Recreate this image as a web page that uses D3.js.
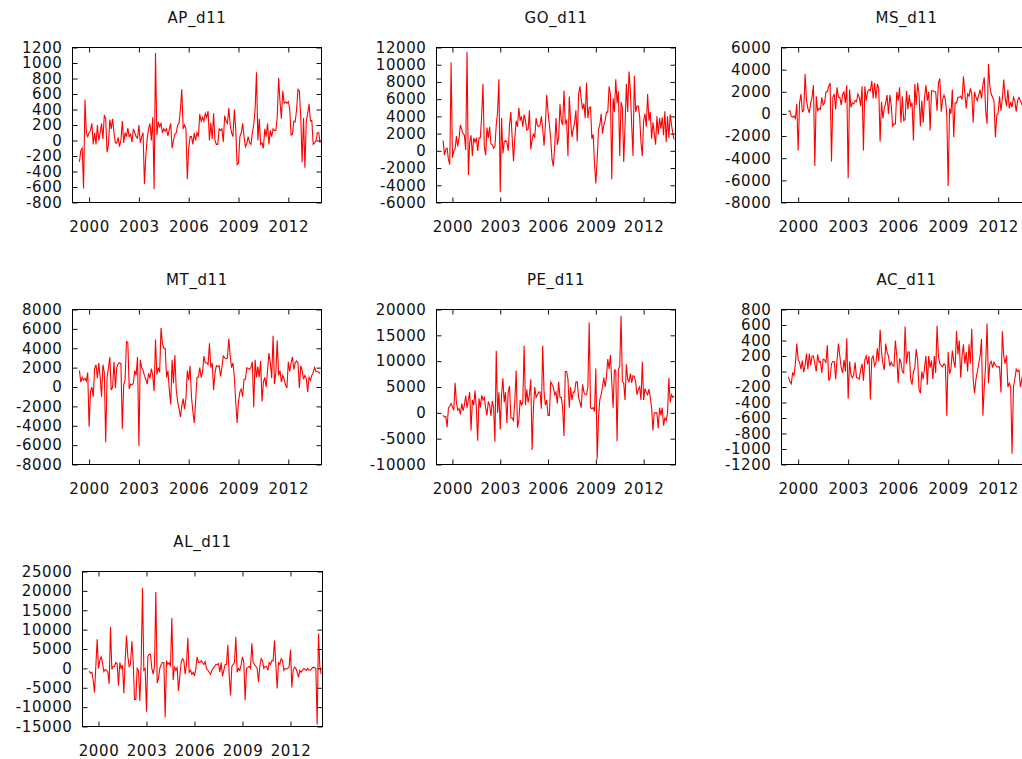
<!DOCTYPE html>
<html>
<head>
<meta charset="utf-8">
<script src="https://cdn.jsdelivr.net/npm/d3@7"></script>
<style>
  body { margin: 0; background: #fff; }
  svg { display: block; }
</style>
</head>
<body>
<svg width="1022" height="759"></svg>
<script>
// monthly series, first value is June 1999, one row per year
const firstMonth = 1999 + 5 / 12;
const yearTicks = [2000, 2003, 2006, 2009, 2012];

const apD11 = [
  -275, -130, -100, -620, 530, 100, 50,
  100, 130, 220, -50, 100, -50, 200, 0, 100, 220, 20, 330,
  280, -150, -50, 270, 150, 280, 100, -30, -30, 40, -80, 0,
  250, -30, 100, 50, 160, 50, 80, -20, 150, 100, 50, 30,
  200, -30, 50, 100, -560, -200, 30, 150, 220, 0, 300, -630,
  1130, 70, 240, 180, 220, 100, 150, 120, 150, 60, 150, 220,
  -100, 0, 80, 100, 200, 220, 400, 660, 150, 200, 150, -500,
  -100, 50, 50, -50, 100, 0, 100, 50, 340, 250, 300, 250,
  350, 300, 380, 0, 230, 20, 350, 0, -50, -50, 150, 130,
  150, -20, 320, 250, 220, 420, 200, 100, 50, 400, 150, -310,
  -290, 50, 100, 220, 50, -80, -40, 50, -30, -50, 100, 200,
  400, 880, 0, 280, -50, -30, -100, 150, 50, 220, -50, 130,
  50, 150, 130, 130, 300, 810, 500, 280, 640, 480, 500, 480,
  500, 420, 70, 80, 250, 240, 400, 660, 640, 300, -280, 290,
  -350, 250, 350, 470, 250, 260, -50, -30, 0, 100, 100, -30
];

const goD11 = [
  1200, -500, 200, 300, -1000, -1600, 10300,
  -800, 0, 200, 1700, 500, 1500, 3000, 2500, 2000, 1800, 100, 11500,
  -2800, 1000, 1800, -600, 1500, 1000, 1500, 0, 1500, 1500, 4000, 7800,
  500, -500, 2700, 1500, 2800, 800, 700, 300, 500, 3000, 4500, 8300,
  -4800, 3800, -300, 1000, 1200, 1000, 0, 3000, 4500, 1500, -1200, 1500,
  3500, 2800, 5000, 3500, 4000, 2800, 4200, 3500, 2400, 2500, 4700, 200,
  1200, 2000, 1500, 3800, 3000, 2800, 3000, 4000, 2500, 600, 3000, 6500,
  4500, 3000, 1500, -1000, -1800, 500, 3800, 700, 1500, 5400, 3500, 3000,
  7000, 3200, 3500, -600, 6300, 3500, 1600, 2500, 3300, 4700, 1100, 6500,
  7500, 6000, 4800, 5500, 3800, 7900, 3800, 5000, 5100, 1400, 1900, -1500,
  -3800, -1000, 2500, 3000, 4300, 2000, 3000, 3500, 4500, 4500, 7500, 6500,
  -3300, 6100, 4500, 8300, 5500, 6900, -600, 5700, 5000, -1300, 3000, 7800,
  4500, 9200, 7000, 3000, -600, 8700, 4500, 5200, 5200, 4000, 1000, -600,
  3500, 4300, 2800, 6600, 3500, 4500, 1400, 3300, 2000, 700, 4000, 1900,
  3800, 2600, 3900, 1800, 4600, 1000, 4000, 1500, 4200, 3000, 2000, 1300
];

const msD11 = [
  200, 300, -200, -300, -200, -400, 900,
  -3300, 1000, 1800, 200, 300, 3600, 1200, 500, 100, 1000, 1500, 2600,
  -4700, 1600, 300, 500, 400, 1500, 800, 1000, 2000, 2000, 2500, 2800,
  -4300, 1500, 1800, 400, 2400, 1500, 1500, 800, 1800, 2000, 1000, 2600,
  -5800, 2200, 600, 1000, 900, 1200, 1100, 1800, 1500, 700, 2500, -3300,
  2500, 1200, 2000, 2200, 2100, 3000, 1400, 2800, 1400, 2700, 2300, -2500,
  1100, -400, 500, 1000, 1700, 0, 1700, 800, -1100, -900, -900, 2000,
  1200, 2400, -800, 1600, -600, -500, 2100, 400, 1700, 700, 1000, -2400,
  2700, 800, 2800, 1800, -1100, 1200, -800, 1500, 2600, 1200, 2000, -1500,
  2100, 2100, 2000, 2000, 300, 2800, 3200, 200, 1300, 1700, 1300, 0,
  -6500, 500, 0, 2200, -2100, 1000, 1000, 1500, 1500, 1600, 1300, 3400,
  1900, 500, 1800, 1600, 2300, 1800, -800, 2000, 1500, 1200, 1700, 2200,
  1400, 2600, 3300, 300, -900, 4500, 2500, 1800, 1500, 1200, -2100, -100,
  100, 1600, 300, 1400, 3100, 1500, 700, 2200, 500, 1100, 600, 1500,
  1200, 200, 1200, 1500, 1200, 900, 600, 1000, 800, 1200, 700, 900
];

const mtD11 = [
  1700, 500, 1000, 700, 900, 600, 1500,
  -4100, -500, 0, -1000, 1900, 2300, 900, 2500, 1000, -1000, 2300, 1500,
  -5700, 1000, 2000, 3100, -300, 0, 2600, -100, 2000, 2400, 2500, 2400,
  -4300, 200, 700, 4700, 4600, -200, 300, 200, 400, 1700, 1200, 3100,
  -6100, 2800, 2000, 1700, 1200, 800, 300, 1400, 900, 1900, 1200, -400,
  4900, 1300, 2000, 1500, 6100, 4500, 4000, 4000, 1000, 1700, -300, -1800,
  2800, 400, 3300, -300, -1500, -2200, -3100, -2000, -1200, -2300, -1200, 1700,
  700, 2200, -1000, -2500, -3700, -1500, 1000, 1000, 2000, 1000, 1500, 3200,
  2500, 2500, 2300, 4500, 2000, 2500, -300, 1400, 2200, 2100, 2200, 1100,
  2000, 3200, 3000, 2900, 3000, 5000, 3200, 2000, 2500, 1000, -1500, -3700,
  -1500, -500, -200, -1000, 800, 800, 2000, 1900, 1800, 2000, 2600, -2100,
  2800, 1000, 2100, 1000, 2700, -1500, 500, 1000, 0, 1700, 3500, 2500,
  900, 5300, 300, 1500, 4800, 1200, 1700, 500, 1200, 800, 200, -100,
  2600, 1600, 2500, 3100, 1800, 2500, 2700, 2500, -100, 2200, 1700, 800,
  1200, 900, -500, 1000, 700, 1200, 1500, 2000, 1600, 1600, 1500, 1400
];

const peD11 = [
  -500, -800, -700, -2800, 1000, 1200, 1800,
  1200, 500, 5800, 2000, 500, 800, -300, 1800, 400, 1500, 3300, 1000,
  2500, 4000, -3400, 2500, 1500, 4300, 1000, -5400, 2800, 1000, 3400, 2500,
  3000, 1000, -500, 2200, 1500, -600, 2300, 1000, -5600, 12000, 0, 4000,
  -3200, 3500, 6700, 2000, 4000, -2000, 4000, 5200, -1000, -1000, -1500, 2500,
  8200, -2900, -1500, 2500, 1500, 2000, 13000, 1500, 4500, 2000, 3500, 6500,
  -7200, 1000, 5000, 3000, 3500, 4000, 4000, 800, 13000, 4000, 1500, 2500,
  -500, -500, 6000, 5500, 5000, 3500, 4000, 1800, 6000, 3000, 3000, 1000,
  -4500, 8000, 8000, 6500, 1000, 5000, 2500, 4000, 4000, 6000, 6000, 3000,
  2000, 1000, 5500, 4000, 3500, 3500, 5000, 17500, 1000, 800, 1000, 300,
  8600, -9000, -1000, 2500, 3500, 5000, 6800, 5000, 7000, 10400, 8500, 11200,
  6000, 1000, 8300, 8300, -5500, 8400, 9000, 18800, 6000, 5800, 2500, 9400,
  6500, 6000, 7600, 5800, 7200, 7000, 6000, 3500, 4500, 5000, 2500, 9900,
  2500, 4700, 4000, 3500, 4600, 3000, 1000, -3400, 0, 0, 0, -3000,
  1000, -500, 1000, -2500, -1000, -1500, 0, 6800, 2000, 3500, 3000, 3200
];

const acD11 = [
  -70, -130, -160, -20, -50, 100, 360,
  150, 120, 30, 140, -10, 80, 230, 30, 230, 80, 200, 200,
  100, 0, 220, 120, 130, -20, 160, 150, 110, 340, -120, -80,
  100, 130, 130, -100, 150, 360, 200, 50, -20, 150, 0, 430,
  -350, 130, -40, -80, -40, 120, -80, -80, -100, 20, 100, -120,
  150, 200, 90, 200, -360, 170, 200, 70, 110, 300, 130, 540,
  250, 100, 20, 360, 250, 200, 70, 120, 80, 70, 400, 200,
  -150, 170, 120, 0, -20, 580, 100, 250, 250, -100, -170, 0,
  50, 290, 150, -230, -280, 0, -100, 50, 200, -170, 200, 50,
  140, -100, 200, -20, 590, 200, 100, 80, 60, 100, 80, -570,
  250, -30, 30, 270, 130, 50, 520, 220, 400, -80, 200, 350,
  100, 250, 0, 350, 100, 550, -100, -280, -100, 0, 100, 200,
  420, -570, -200, 100, 620, -150, 100, 130, 50, 120, 80, 60,
  60, 60, -270, 520, 200, 100, 210, -200, -150, -200, -1060, -200,
  -100, 30, 0, 20, -200, -100, 0, 50, -50, 0, 50, 0
];

const alD11 = [
  -700, -1200, -1000, -3000, -6200, 500, 7500,
  0, 2000, 3000, 1500, -800, -300, -500, -1000, -4000, 10700, -200, 500,
  500, 1500, 1200, -4500, 1500, 0, 800, -6500, 2000, 8500, 3000, 500,
  1000, 7000, 2000, -8000, -8000, 0, -500, -8400, 1000, 20700, -500, 0,
  -11200, 3000, 3700, 3600, 0, -1500, 500, 19700, -3800, -2500, 0, 1000,
  1500, 1500, -12600, 2000, 1000, 1500, 500, 13000, -3000, 500, -500, 200,
  -5800, -2000, 1500, 2500, 2000, -1500, 1000, 7900, -1000, -500, -1500, -1000,
  -2000, 0, 3000, 1500, 1500, 2000, 1500, 1000, 1700, 0, -500, -1000,
  -1500, -500, 0, 500, 1000, 1000, 1200, -1000, 1500, -2000, -500, 1000,
  1000, 6100, -1500, -7000, 500, 1000, 1500, 8100, -1000, 0, -500, 1000,
  3000, 1500, -8200, 0, 200, 500, 0, 6500, 1500, 1000, 500, 0,
  -3500, 500, 2500, 2000, 0, 500, 500, -500, 1500, 1000, 2000, 2000,
  7200, 1000, -5200, 1500, 1000, 2500, 2000, -500, 0, -200, 0, 500,
  4800, -4900, -500, 300, 0, -1000, -2300, -500, -1000, -500, 0, -200,
  -500, 0, -500, -500, 0, 300, 200, 0, -14500, 9000, 500, -1500
];

const apTicks = [-800, -600, -400, -200, 0, 200, 400, 600, 800, 1000, 1200];
const goTicks = [-6000, -4000, -2000, 0, 2000, 4000, 6000, 8000, 10000, 12000];
const msTicks = [-8000, -6000, -4000, -2000, 0, 2000, 4000, 6000];
const mtTicks = [-8000, -6000, -4000, -2000, 0, 2000, 4000, 6000, 8000];
const peTicks = [-10000, -5000, 0, 5000, 10000, 15000, 20000];
const acTicks = [-1200, -1000, -800, -600, -400, -200, 0, 200, 400, 600, 800];
const alTicks = [-15000, -10000, -5000, 0, 5000, 10000, 15000, 20000, 25000];

const panels = [
  { title: "AP_d11", values: apD11, ticks: apTicks, box: [72.5, 47.5, 321.5, 202.5] },
  { title: "GO_d11", values: goD11, ticks: goTicks, box: [436.5, 47.5, 675.5, 202.5] },
  { title: "MS_d11", values: msD11, ticks: msTicks, box: [781.5, 47.5, 1031.5, 202.5] },
  { title: "MT_d11", values: mtD11, ticks: mtTicks, box: [72.5, 309.5, 321.5, 464.5] },
  { title: "PE_d11", values: peD11, ticks: peTicks, box: [436.5, 309.5, 675.5, 464.5] },
  { title: "AC_d11", values: acD11, ticks: acTicks, box: [781.5, 309.5, 1031.5, 464.5] },
  { title: "AL_d11", values: alD11, ticks: alTicks, box: [82.5, 571.5, 322.5, 726.5] }
];

const svg = d3.select("svg");
const font = "'DejaVu Sans', Verdana, sans-serif";

function styleAxis(g) {
  g.select(".domain").remove();
  g.attr("font-size", 15).attr("font-family", font).attr("color", "#111");
  g.selectAll(".tick text").attr("letter-spacing", 0.6);
  g.selectAll(".tick line").attr("stroke-width", 1);
}

panels.forEach((p, k) => {
  const [x0, y0, x1, y1] = p.box;
  const g = svg.append("g");

  const x = d3.scaleLinear().domain([1999, 2014]).range([x0, x1]);
  const y = d3.scaleLinear().domain(d3.extent(p.ticks)).range([y1, y0]);

  g.append("clipPath").attr("id", "clip" + k)
    .append("rect")
    .attr("x", x0).attr("y", y0)
    .attr("width", x1 - x0).attr("height", y1 - y0);

  g.append("path")
    .datum(p.values)
    .attr("clip-path", `url(#clip${k})`)
    .attr("fill", "none")
    .attr("stroke", "#ff0000")
    .attr("stroke-width", 1.1)
    .attr("d", d3.line()
      .x((d, i) => x(firstMonth + i / 12))
      .y(d => y(d)));

  g.append("g")
    .attr("transform", `translate(0,${y1})`)
    .call(d3.axisBottom(x).tickValues(yearTicks).tickSizeInner(-5).tickSizeOuter(0)
      .tickPadding(19).tickFormat(d3.format("d")))
    .call(styleAxis);

  g.append("g")
    .attr("transform", `translate(0,${y0})`)
    .call(d3.axisTop(x).tickValues(yearTicks).tickSizeInner(-5).tickSizeOuter(0).tickFormat(""))
    .call(styleAxis);

  g.append("g")
    .attr("transform", `translate(${x0},0)`)
    .call(d3.axisLeft(y).tickValues(p.ticks).tickSizeInner(-5).tickSizeOuter(0)
      .tickPadding(10).tickFormat(d => String(d)))
    .call(styleAxis);

  g.append("g")
    .attr("transform", `translate(${x1},0)`)
    .call(d3.axisRight(y).tickValues(p.ticks).tickSizeInner(-5).tickSizeOuter(0).tickFormat(""))
    .call(styleAxis);

  g.append("rect")
    .attr("x", x0).attr("y", y0)
    .attr("width", x1 - x0).attr("height", y1 - y0)
    .attr("fill", "none")
    .attr("stroke", "#000")
    .attr("stroke-width", 1);

  g.append("text")
    .attr("x", (x0 + x1) / 2)
    .attr("y", y0 - 25)
    .attr("text-anchor", "middle")
    .attr("font-family", font)
    .attr("font-size", 15)
    .attr("letter-spacing", 0.6)
    .attr("fill", "#111")
    .text(p.title);
});
</script>
</body>
</html>
